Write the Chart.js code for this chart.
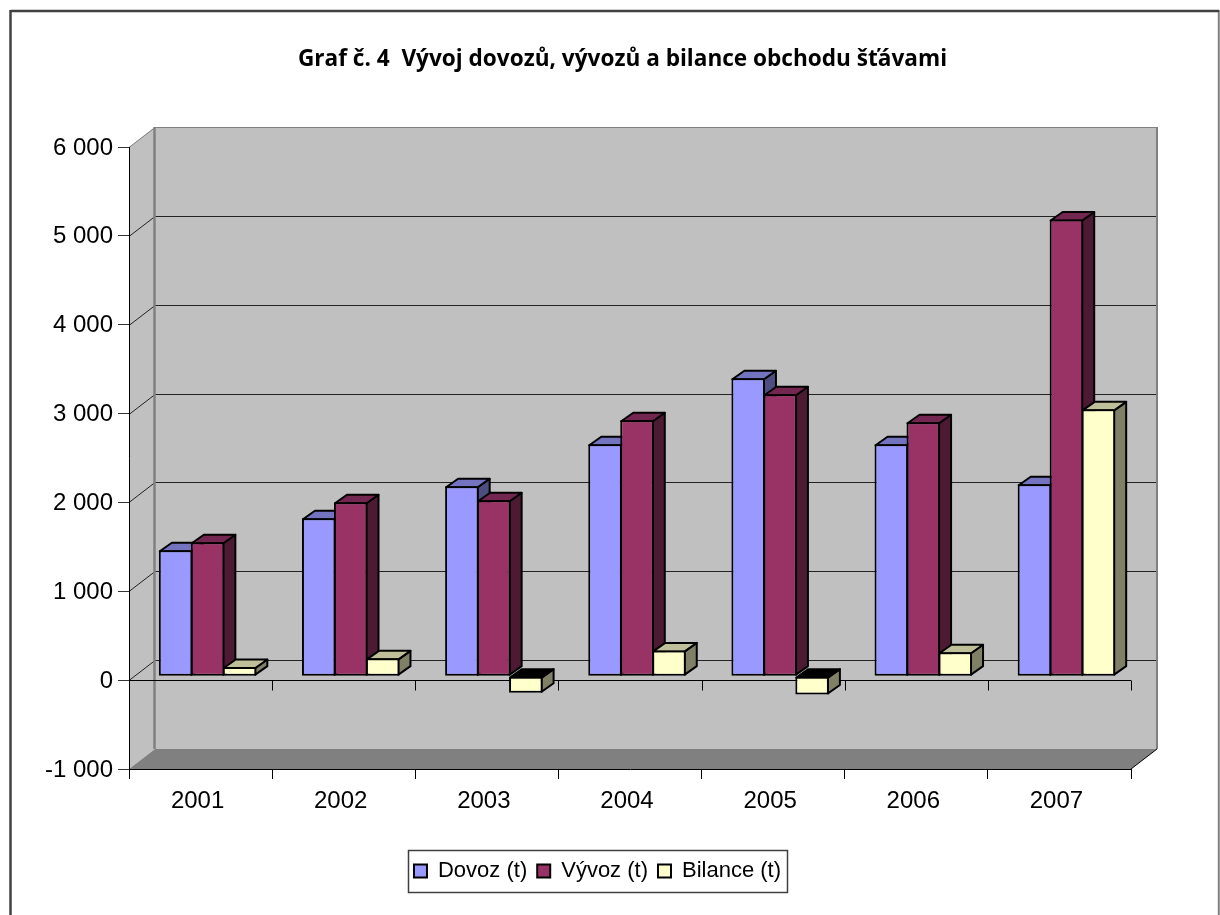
<!DOCTYPE html>
<html>
<head>
<meta charset="utf-8">
<title>Graf 4</title>
<script src="https://cdn.jsdelivr.net/npm/chart.js@4"></script>
<style>
  html, body { margin: 0; padding: 0; background: #fff; overflow: hidden; }
  canvas { display: block; }
</style>
</head>
<body>
<canvas id="myChart" width="1220" height="915" style="width:1220px;height:915px"></canvas>
<script>
const years = ['2001', '2002', '2003', '2004', '2005', '2006', '2007'];
const dovoz = [1417, 1777, 2137, 2610, 3352, 2610, 2160];
const vyvoz = [1507, 1957, 1980, 2880, 3172, 2857, 5139];
const bilance = [103, 200, -187, 290, -206, 269, 3003];
const yTickLabels = ['-1 000', '0', '1 000', '2 000', '3 000', '4 000', '5 000', '6 000'];

// colours of the faces: front, side, top
const frontColors = ['#9999FF', '#993366', '#FFFFCC'];
const sideColors = ['#4D4D80', '#4D1A33', '#808066'];
const topColors = ['#7373BF', '#732650', '#BFBF99'];

// depth of the fake 3d box and of the bars inside it
const wallDx = 26, wallDy = 20;
const barDx = 12, barDy = 8.5;
const shiftX = 7, shiftY = 4;

function poly(ctx, pts, fill, stroke, lw) {
    ctx.beginPath();
    ctx.moveTo(pts[0][0], pts[0][1]);
    for (let i = 1; i < pts.length; i++) {
        ctx.lineTo(pts[i][0], pts[i][1]);
    }
    ctx.closePath();
    if (fill) {
        ctx.fillStyle = fill;
        ctx.fill();
    }
    if (stroke) {
        ctx.strokeStyle = stroke;
        ctx.lineWidth = lw;
        ctx.stroke();
    }
}

function hline(ctx, x1, y1, x2, y2, color, lw) {
    ctx.beginPath();
    ctx.moveTo(x1, y1);
    ctx.lineTo(x2, y2);
    ctx.strokeStyle = color;
    ctx.lineWidth = lw;
    ctx.stroke();
}

const box3d = {
    id: 'box3d',
    afterLayout(chart) {
        // title and legend are not centred on the same line in the original
        chart.titleBlock.left += 57;
        chart.titleBlock.right += 57;
        chart.legend.left += 32;
        chart.legend.right += 32;
    },
    beforeDraw(chart) {
        const ctx = chart.ctx;
        const a = chart.chartArea;
        const y = chart.scales.y;
        ctx.save();
        ctx.fillStyle = '#fff';
        ctx.fillRect(0, 0, chart.width, chart.height);

        // outer frame, runs past the bottom of the picture
        hline(ctx, 1218.8, 10, 1218.8, 915, '#808080', 2);
        hline(ctx, 10.5, 11, 1219, 11, '#404040', 2.5);
        hline(ctx, 10.5, 10, 10.5, 915, '#404040', 2.5);

        // left wall, back wall, floor
        poly(ctx, [[a.left, a.top], [a.left + wallDx, a.top - wallDy], [a.left + wallDx, a.bottom - wallDy], [a.left, a.bottom]], '#C0C0C0');
        poly(ctx, [[a.left + wallDx, a.top - wallDy], [a.right + wallDx, a.top - wallDy], [a.right + wallDx, a.bottom - wallDy], [a.left + wallDx, a.bottom - wallDy]], '#C0C0C0');
        poly(ctx, [[a.left, a.bottom], [a.left + wallDx, a.bottom - wallDy], [a.right + wallDx, a.bottom - wallDy], [a.right, a.bottom]], '#808080');

        // gridlines on the walls
        y.ticks.forEach(t => {
            const py = Math.round(y.getPixelForValue(t.value)) + 0.5;
            if (t.value === y.min) return;
            const col = t.value === y.max ? '#808080' : '#222';
            hline(ctx, a.left, py, a.left + wallDx, py - wallDy, col, 1);
            hline(ctx, a.left + wallDx, py - wallDy, a.right + wallDx, py - wallDy, col, 1);
        });

        hline(ctx, a.left + wallDx - 0.5, a.top - wallDy, a.left + wallDx - 0.5, a.bottom - wallDy, '#808080', 2.5);
        hline(ctx, a.right + wallDx, a.top - wallDy, a.right + wallDx, a.bottom - wallDy, '#808080', 2);
        hline(ctx, a.right, a.bottom, a.right + wallDx, a.bottom - wallDy, '#000', 1);

        // legend frame
        ctx.strokeStyle = '#404040';
        ctx.lineWidth = 1.5;
        ctx.strokeRect(408.5, 850.5, 379, 42);
        ctx.restore();
    },
    beforeDatasetsDraw(chart) {
        const ctx = chart.ctx;
        const a = chart.chartArea;
        const x = chart.scales.x;
        const y = chart.scales.y;

        // the category axis crosses at zero
        const zero = Math.round(y.getPixelForValue(0)) + 0.5;
        hline(ctx, a.left, zero, a.right, zero, '#000', 1);
        const step = x.width / years.length;
        for (let i = 0; i <= years.length; i++) {
            const px = Math.round(a.left + i * step) + 0.5;
            hline(ctx, px, zero, px, zero + 10, '#000', 1);
        }

        ctx.save();
        ctx.translate(shiftX, -shiftY);
        ctx.lineJoin = 'round';
        chart.data.datasets.forEach((ds, d) => {
            chart.getDatasetMeta(d).data.forEach((bar, i) => {
                const xl = bar.x - bar.width / 2 + 1;
                const xr = bar.x + bar.width / 2 - 1;
                const yt = Math.min(bar.y, bar.base) + 1;
                const yb = Math.max(bar.y, bar.base) - 1;
                poly(ctx, [[xr, yt], [xr + barDx, yt - barDy], [xr + barDx, yb - barDy], [xr, yb]], sideColors[d], '#000', 2);
                poly(ctx, [[xl, yt], [xl + barDx, yt - barDy], [xr + barDx, yt - barDy], [xr, yt]], ds.data[i] < 0 ? '#000' : topColors[d], '#000', 2);
            });
        });
    },
    afterDatasetsDraw(chart) {
        chart.ctx.restore();
    }
};

const config = {
    type: 'bar',
    data: {
        labels: years,
        datasets: [
            { label: 'Dovoz (t)', data: dovoz, backgroundColor: frontColors[0] },
            { label: 'Vývoz (t)', data: vyvoz, backgroundColor: frontColors[1] },
            { label: 'Bilance (t)', data: bilance, backgroundColor: frontColors[2] }
        ]
    },
    options: {
        responsive: false,
        animation: false,
        devicePixelRatio: 1,
        layout: { padding: { left: 0, right: 89, top: 0, bottom: 23 } },
        categoryPercentage: 0.67,
        barPercentage: 1.05,
        datasets: {
            bar: { borderColor: '#000', borderWidth: 2, borderSkipped: false, inflateAmount: 0 }
        },
        plugins: {
            tooltip: { enabled: false },
            title: {
                display: true,
                text: 'Graf č. 4  Vývoj dovozů, vývozů a bilance obchodu šťávami',
                color: '#000',
                font: { family: 'Open Sans', weight: 'bold', size: 22.6, lineHeight: 1.2 },
                padding: { top: 46.5, bottom: 73.4 }
            },
            legend: {
                display: true,
                position: 'bottom',
                labels: {
                    color: '#000',
                    boxWidth: 13,
                    boxHeight: 13,
                    padding: 10,
                    font: { family: 'Liberation Sans', size: 22 }
                }
            }
        },
        scales: {
            x: {
                offset: true,
                afterFit(axis) { axis.height = 81; },
                border: { color: '#000', width: 1 },
                grid: { drawOnChartArea: false, offset: true, color: '#000', tickLength: 10, tickWidth: 1 },
                ticks: { color: '#000', padding: 8, labelOffset: -3, maxRotation: 0, font: { family: 'Liberation Sans', size: 24 } }
            },
            y: {
                min: -1000,
                max: 6000,
                afterFit(axis) { axis.width = 129; },
                border: { color: '#000', width: 1 },
                grid: { drawOnChartArea: false, color: '#333', tickLength: 11, tickWidth: 1 },
                ticks: {
                    stepSize: 1000,
                    color: '#000',
                    padding: 5,
                    labelOffset: 1,
                    font: { family: 'Liberation Sans', size: 24 },
                    callback: (v, i) => yTickLabels[i]
                }
            }
        }
    },
    plugins: [box3d]
};

const myChart = new Chart(document.getElementById('myChart'), config);
</script>
</body>
</html>
